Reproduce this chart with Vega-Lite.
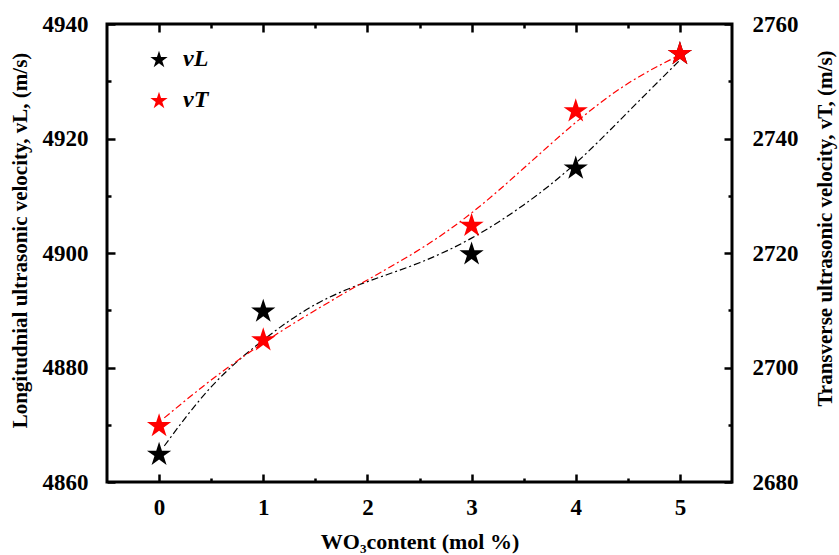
{
  "$schema": "https://vega.github.io/schema/vega-lite/v6.json",
  "width": 625,
  "height": 458,
  "autosize": {"type": "none"},
  "padding": {"left": 107, "top": 24, "right": 107, "bottom": 73},
  "background": "white",
  "config": {
    "view": {"stroke": "black", "strokeWidth": 3},
    "font": "Liberation Serif",
    "axis": {
      "labelFont": "Liberation Serif", "labelFontWeight": "bold", "labelFontSize": 23, "labelColor": "black",
      "titleFont": "Liberation Serif", "titleFontWeight": "bold", "titleColor": "black",
      "tickColor": "black", "tickWidth": 2.5, "domain": false, "grid": false
    }
  },
  "datasets": {
    "pts": [
      {"wo3": 0, "series": "vL", "v": 4865}, {"wo3": 1, "series": "vL", "v": 4890},
      {"wo3": 3, "series": "vL", "v": 4900}, {"wo3": 4, "series": "vL", "v": 4915},
      {"wo3": 5, "series": "vL", "v": 4935},
      {"wo3": 0, "series": "vT", "v": 2690}, {"wo3": 1, "series": "vT", "v": 2705},
      {"wo3": 3, "series": "vT", "v": 2725}, {"wo3": 4, "series": "vT", "v": 2745},
      {"wo3": 5, "series": "vT", "v": 2755}
    ],
    "curve": [
      {"wo3": 0.05, "series": "vL", "v": 4866.3}, {"wo3": 0.5, "series": "vL", "v": 4876.6},
      {"wo3": 1, "series": "vL", "v": 4884.8}, {"wo3": 1.5, "series": "vL", "v": 4891.0},
      {"wo3": 2, "series": "vL", "v": 4895.0}, {"wo3": 2.5, "series": "vL", "v": 4898.3},
      {"wo3": 3, "series": "vL", "v": 4902.6}, {"wo3": 3.5, "series": "vL", "v": 4908.4},
      {"wo3": 4, "series": "vL", "v": 4915.7}, {"wo3": 4.5, "series": "vL", "v": 4924.6},
      {"wo3": 5, "series": "vL", "v": 4933.7},
      {"wo3": 0.05, "series": "vT", "v": 2691.2}, {"wo3": 0.5, "series": "vT", "v": 2697.8},
      {"wo3": 1, "series": "vT", "v": 2704.3}, {"wo3": 1.5, "series": "vT", "v": 2710},
      {"wo3": 2, "series": "vT", "v": 2715.3}, {"wo3": 2.5, "series": "vT", "v": 2720.6},
      {"wo3": 3, "series": "vT", "v": 2727}, {"wo3": 3.5, "series": "vT", "v": 2734.8},
      {"wo3": 4, "series": "vT", "v": 2742.8}, {"wo3": 4.5, "series": "vT", "v": 2749.6},
      {"wo3": 5, "series": "vT", "v": 2754.6}
    ]
  },
  "layer": [
    {
      "data": {"name": "curve"},
      "transform": [{"filter": "datum.series === 'vL'"}],
      "mark": {"type": "line", "color": "black", "strokeWidth": 1.2, "strokeDash": [7, 3, 2, 3], "interpolate": "natural"},
      "encoding": {
        "x": {"field": "wo3", "type": "quantitative", "scale": {"domain": [-0.5, 5.5], "nice": false},
          "axis": {"orient": "bottom", "values": [0, 1, 2, 3, 4, 5], "tickSize": -8, "labelPadding": 22, "format": "d",
            "title": "WO₃content (mol %)", "titleFontSize": 22, "titleY": 59, "titleBaseline": "middle"}},
        "y": {"field": "v", "type": "quantitative", "scale": {"domain": [4860, 4940], "nice": false, "zero": false},
          "axis": {"orient": "left", "values": [4860, 4880, 4900, 4920, 4940], "tickSize": -8, "labelPadding": 27, "format": "d",
            "title": "Longitudnial ultrasonic velocity, vL, (m/s)", "titleFontSize": 21, "titleX": -87, "titleY": 216, "titleAngle": -90, "titleBaseline": "middle", "titleAlign": "center"}}
      }
    },
    {
      "data": {"name": "pts"},
      "transform": [{"filter": "datum.series === 'vL'"}],
      "mark": {"type": "point", "filled": true, "opacity": 1, "size": 650,
        "shape": "M0,-0.905L0.225,-0.214L0.951,-0.214L0.363,0.213L0.588,0.905L0,0.477L-0.588,0.905L-0.363,0.213L-0.951,-0.214L-0.225,-0.214Z"},
      "encoding": {
        "x": {"field": "wo3", "type": "quantitative", "scale": {"domain": [-0.5, 5.5], "nice": false},
          "axis": {"orient": "bottom", "values": [0.5, 1.5, 2.5, 3.5, 4.5], "tickSize": -4, "labels": false, "title": null}},
        "y": {"field": "v", "type": "quantitative", "scale": {"domain": [4860, 4940], "nice": false, "zero": false},
          "axis": {"orient": "left", "values": [4870, 4890, 4910, 4930], "tickSize": -4, "labels": false, "title": null}},
        "color": {"field": "series", "type": "nominal", "scale": {"domain": ["vL", "vT"], "range": ["black", "red"]},
          "legend": {"orient": "none", "legendX": 40, "legendY": 23, "title": null, "padding": 0,
            "symbolType": "M0,-0.905L0.225,-0.214L0.951,-0.214L0.363,0.213L0.588,0.905L0,0.477L-0.588,0.905L-0.363,0.213L-0.951,-0.214L-0.225,-0.214Z",
            "symbolSize": 330, "symbolStrokeWidth": 0, "symbolOpacity": 1,
            "labelFont": "Liberation Serif", "labelFontSize": 24, "labelFontWeight": "bold", "labelFontStyle": "italic",
            "labelColor": "black", "labelOffset": 12, "rowPadding": 17}}
      }
    },
    {
      "data": {"name": "curve"},
      "transform": [{"filter": "datum.series === 'vT'"}],
      "mark": {"type": "line", "color": "red", "strokeWidth": 1.2, "strokeDash": [7, 3, 2, 3], "interpolate": "natural"},
      "encoding": {
        "x": {"field": "wo3", "type": "quantitative", "scale": {"domain": [-0.5, 5.5], "nice": false},
          "axis": {"orient": "top", "values": [0, 1, 2, 3, 4, 5], "tickSize": -8, "labels": false, "title": null}},
        "y": {"field": "v", "type": "quantitative", "scale": {"domain": [2680, 2760], "nice": false, "zero": false},
          "axis": {"orient": "right", "values": [2680, 2700, 2720, 2740, 2760], "tickSize": -8, "labelPadding": 28, "format": "d",
            "title": "Transverse ultrasonic velocity, vT, (m/s)", "titleFontSize": 21, "titleX": 93, "titleY": 204, "titleAngle": -90, "titleBaseline": "middle", "titleAlign": "center"}}
      }
    },
    {
      "data": {"name": "pts"},
      "transform": [{"filter": "datum.series === 'vT'"}],
      "mark": {"type": "point", "filled": true, "opacity": 1, "size": 650,
        "shape": "M0,-0.905L0.225,-0.214L0.951,-0.214L0.363,0.213L0.588,0.905L0,0.477L-0.588,0.905L-0.363,0.213L-0.951,-0.214L-0.225,-0.214Z"},
      "encoding": {
        "x": {"field": "wo3", "type": "quantitative", "scale": {"domain": [-0.5, 5.5], "nice": false},
          "axis": {"orient": "top", "values": [0.5, 1.5, 2.5, 3.5, 4.5], "tickSize": -4, "labels": false, "title": null}},
        "y": {"field": "v", "type": "quantitative", "scale": {"domain": [2680, 2760], "nice": false, "zero": false},
          "axis": {"orient": "right", "values": [2690, 2710, 2730, 2750], "tickSize": -4, "labels": false, "title": null}},
        "color": {"field": "series", "type": "nominal", "scale": {"domain": ["vL", "vT"], "range": ["black", "red"]}}
      }
    }
  ],
  "resolve": {"scale": {"y": "independent"}, "axis": {"x": "independent", "y": "independent"}}
}
